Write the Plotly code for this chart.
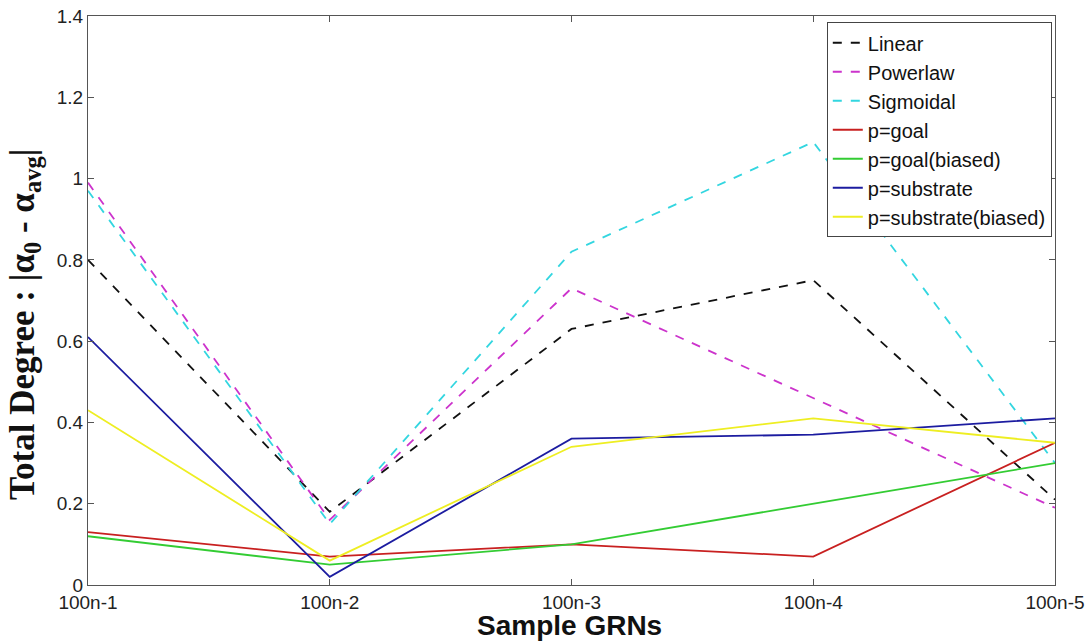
import plotly.graph_objects as go

categories = ["100n-1", "100n-2", "100n-3", "100n-4", "100n-5"]
y_ticks = [0, 0.2, 0.4, 0.6, 0.8, 1.0, 1.2, 1.4]
y_tick_labels = ["0", "0.2", "0.4", "0.6", "0.8", "1", "1.2", "1.4"]
linear = [0.80, 0.18, 0.63, 0.75, 0.21]
powerlaw = [0.99, 0.16, 0.73, 0.46, 0.19]
sigmoidal = [0.97, 0.15, 0.82, 1.09, 0.30]
p_goal = [0.13, 0.07, 0.10, 0.07, 0.35]
p_goal_biased = [0.12, 0.05, 0.10, 0.20, 0.30]
p_substrate = [0.61, 0.02, 0.36, 0.37, 0.41]
p_substrate_biased = [0.43, 0.06, 0.34, 0.41, 0.35]
x_title = "<b>Sample GRNs</b>"
y_title = "<b>Total Degree : |α<sub>0</sub> - α<sub>avg</sub>|</b>"

series = [
    ("Linear", linear, "#111111", "dash"),
    ("Powerlaw", powerlaw, "#cc33cc", "dash"),
    ("Sigmoidal", sigmoidal, "#33d6e0", "dash"),
    ("p=goal", p_goal, "#c82020", "solid"),
    ("p=goal(biased)", p_goal_biased, "#33cc33", "solid"),
    ("p=substrate", p_substrate, "#1c1ca0", "solid"),
    ("p=substrate(biased)", p_substrate_biased, "#eeee22", "solid"),
]

fig = go.Figure()
for name, vals, color, dash in series:
    fig.add_trace(go.Scatter(
        x=list(range(len(categories))), y=vals, name=name, mode="lines",
        line=dict(color=color, dash=dash, width=1.8),
    ))

axis_common = dict(
    showline=True, linecolor="#555555", linewidth=1, mirror="ticks",
    ticks="inside", ticklen=6, tickcolor="#555555", showgrid=False, zeroline=False,
    automargin=False, ticklabeloverflow="allow",
    tickfont=dict(family="Arial, Liberation Sans", size=19, color="#222222"),
)

fig.update_layout(
    width=1092, height=643,
    margin=dict(l=88, r=37, t=16, b=58),
    paper_bgcolor="white", plot_bgcolor="white",
    xaxis=dict(
        **axis_common,
        tickmode="array", tickvals=list(range(len(categories))), ticktext=categories,
        range=[0, len(categories) - 1],
    ),
    yaxis=dict(
        **axis_common,
        range=[0, 1.4], tickmode="array", tickvals=y_ticks, ticktext=y_tick_labels,
    ),
    legend=dict(
        x=0.764, y=0.989, xanchor="left", yanchor="top",
        bgcolor="white", bordercolor="#444444", borderwidth=1,
        font=dict(family="Arial, Liberation Sans", size=20, color="#111111"),
        tracegroupgap=0, itemwidth=30,
    ),
    showlegend=True,
    annotations=[
        dict(text=x_title, xref="paper", yref="paper", x=0.498, y=-0.071,
             xanchor="center", yanchor="middle", showarrow=False,
             font=dict(family="Arial, Liberation Sans", size=28, color="#111111")),
        dict(text=y_title, xref="paper", yref="paper", x=-0.0651, y=0.457,
             xanchor="center", yanchor="middle", showarrow=False, textangle=-90,
             font=dict(family="Liberation Serif, Times New Roman, serif", size=35, color="#111111")),
    ],
)

fig.write_html("out.html", config={"displayModeBar": False},
               post_script="document.body.style.margin='0';")
